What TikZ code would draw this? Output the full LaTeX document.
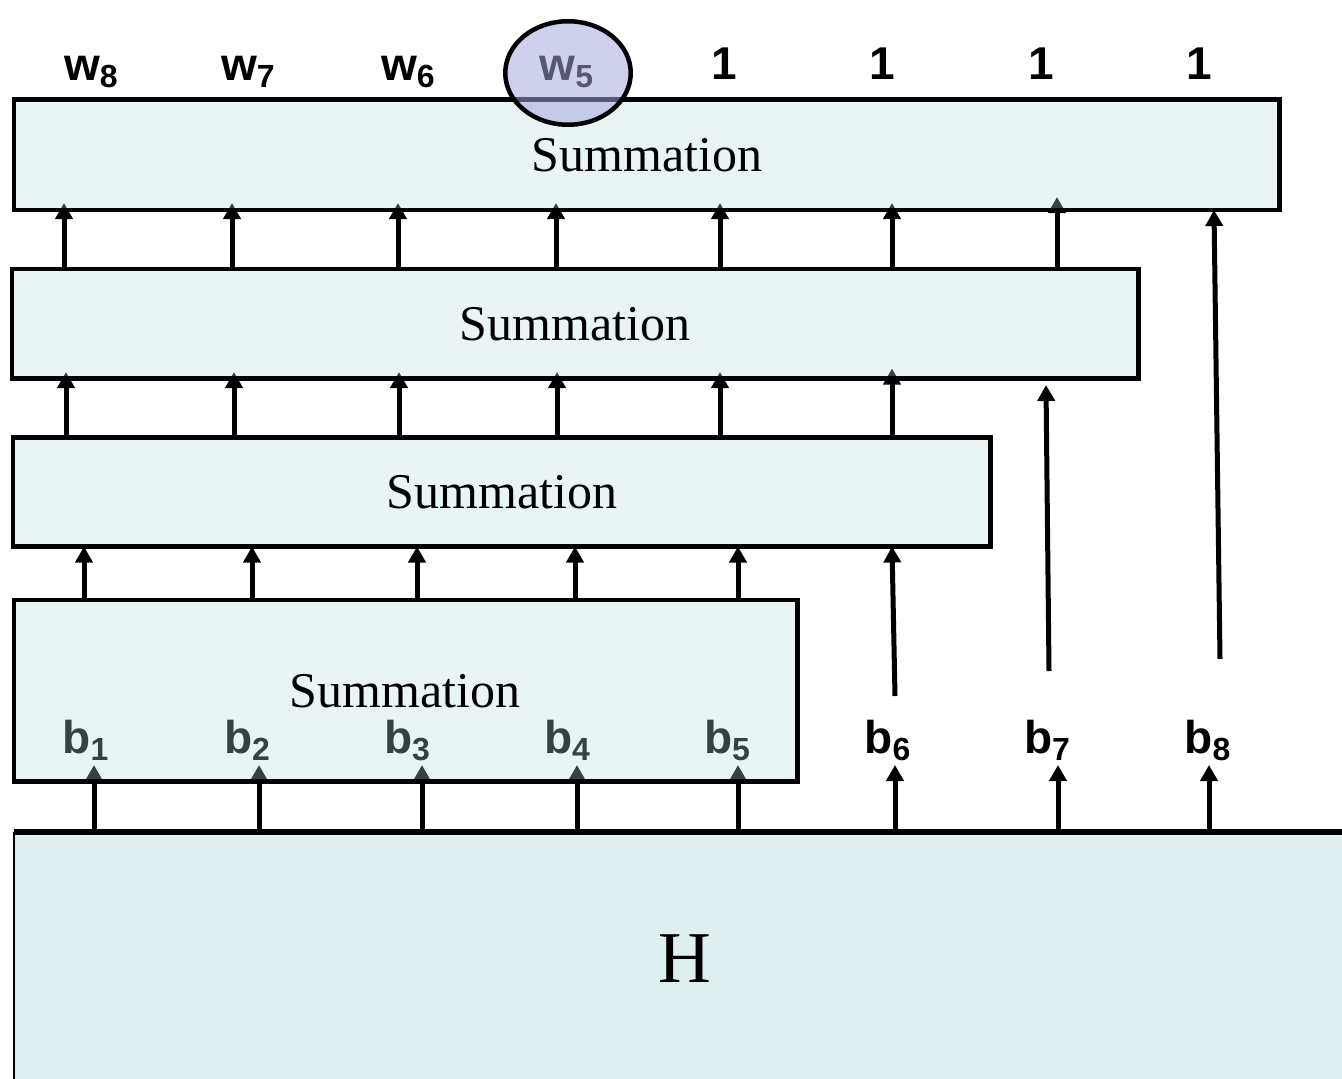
\documentclass[tikz,border=0pt]{standalone}
\usepackage{fontspec}
\setmainfont{Liberation Serif}
\newfontfamily\labelfont{Liberation Sans}
\usetikzlibrary{arrows.meta,shapes.geometric}
\definecolor{sumfill}{RGB}{185,218,221}
\definecolor{hfill}{RGB}{221,239,239}
\definecolor{markfill}{RGB}{163,165,219}
\pgfdeclarelayer{back}
\pgfdeclarelayer{front}
\pgfsetlayers{back,main,front}
% letter with a lowered, smaller index
\newcommand\sublab[2]{#1\raisebox{-0.16em}{\fontsize{32}{32}\selectfont#2}}

\begin{document}
\begin{tikzpicture}[x=1pt,y=-1pt,
  sumbox/.style={draw=black, line width=4.5pt, fill=sumfill, fill opacity=0.3,
    draw opacity=1, text opacity=1, inner sep=0pt, outer sep=0pt, anchor=north west,
    font=\fontsize{50}{60}\selectfont},
  arr/.style={line width=5pt, -{Triangle[length=16pt,width=17pt]}},
  lab/.style={anchor=base, inner sep=0pt, font=\labelfont\bfseries\fontsize{46}{46}\selectfont}]

\useasboundingbox (0,0) rectangle (1342,1079);
\clip (0,0) rectangle (1342,1079);

% input block H
\node[fill=hfill, inner sep=0pt, outer sep=0pt, minimum width=1342pt, minimum height=254pt,
      font=\fontsize{73}{80}\selectfont] (H) at (685,959) {H};
\draw[line width=2.5pt] (H.south west) -- (H.north west);
\draw[line width=5.5pt] (H.north west) -- (H.north east);

% summation stages
\node[sumbox, minimum width=1265.5pt, minimum height=110.5pt] (s1) at (14,99.5) {Summation};
\node[sumbox, minimum width=1126.5pt, minimum height=109.5pt] (s2) at (12,269) {Summation};
\node[sumbox, minimum width=977.5pt, minimum height=109pt] (s3) at (13,437.5) {Summation};
\node[sumbox, minimum width=783.5pt, minimum height=181.5pt] (s4) at (14,600) {};
\node[inner sep=0pt, font=\fontsize{50}{60}\selectfont] (s4t) at (405,691) {Summation};

% free ends of the long bypass arrows
\coordinate (b6s) at (895,696);
\coordinate (b7s) at (1049,671);
\coordinate (b7e) at (1046,385);
\coordinate (b8s) at (1220,659);

\begin{pgfonlayer}{back}
  % H to first stage and bypass outputs
  \foreach \x in {94,259,422,577,738,895,1058,1209}
    \draw[arr, shorten >=-16.5pt] (\x,0 |- H.north) -- (\x,0 |- s4.south);
  % stage 4 -> stage 3
  \foreach \x in {84,252,417,575,738}
    \draw[arr] (\x,0 |- s4.north) -- (\x,0 |- s3.south);
  % stage 3 -> stage 2
  \foreach \x in {66,234,399,557,720}
    \draw[arr, shorten >=-6.5pt] (\x,0 |- s3.north) -- (\x,0 |- s2.south);
  \draw[arr, shorten >=-10pt] (892,0 |- s3.north) -- (892,0 |- s2.south);
  % stage 2 -> stage 1
  \foreach \x in {64,232,398,556,720,892}
    \draw[arr, shorten >=-7pt] (\x,0 |- s2.north) -- (\x,0 |- s1.south);
  \draw[arr, shorten >=-13pt] (1057,0 |- s2.north) -- (1057,0 |- s1.south);
  % bypass arrows
  \draw[arr] (b6s) -- (892,0 |- s3.south);
  \draw[arr] (b7s) -- (b7e);
  \draw[arr] (b8s) -- (1214,0 |- s1.south);
  % bit labels
  \node[lab] (b1) at (85.5,753) {\sublab{b}{1}};
  \node[lab] (b2) at (247,753) {\sublab{b}{2}};
  \node[lab] (b3) at (407,753) {\sublab{b}{3}};
  \node[lab] (b4) at (567,753) {\sublab{b}{4}};
  \node[lab] (b5) at (727,753) {\sublab{b}{5}};
\end{pgfonlayer}

\node[lab] (b6) at (887.5,753) {\sublab{b}{6}};
\node[lab] (b7) at (1047,753) {\sublab{b}{7}};
\node[lab] (b8) at (1207.5,753) {\sublab{b}{8}};

% weights
\node[lab] (w8) at (91,80) {\sublab{w}{8}};
\node[lab] (w7) at (248,80) {\sublab{w}{7}};
\node[lab] (w6) at (408,80) {\sublab{w}{6}};
\node[lab] (w5) at (566.5,80) {\sublab{w}{5}};
\node[lab] (u1) at (724,79) {1};
\node[lab] (u2) at (882,79) {1};
\node[lab] (u3) at (1041,79) {1};
\node[lab] (u4) at (1199.5,79) {1};

\begin{pgfonlayer}{front}
  \node[ellipse, draw=black, line width=4.5pt, fill=markfill, fill opacity=0.52, draw opacity=1,
        inner sep=0pt, minimum width=125.5pt, minimum height=103.5pt] (mark) at (568,73) {};
\end{pgfonlayer}
\end{tikzpicture}
\end{document}
